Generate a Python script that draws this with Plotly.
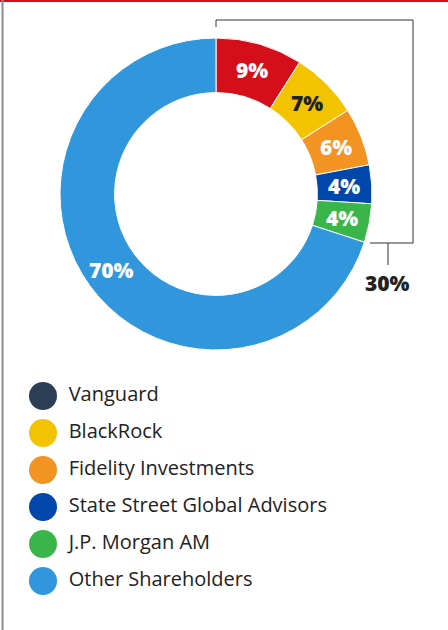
import math

import plotly.graph_objects as go

# shareholder split, clockwise from 12 o'clock
holders = [
    "Vanguard",
    "BlackRock",
    "Fidelity Investments",
    "State Street Global Advisors",
    "J.P. Morgan AM",
    "Other Shareholders",
]
shares = [9, 7, 6, 4, 4, 70]
slice_colors = ["#D50F19", "#F3C300", "#F39322", "#0047AB", "#3AB54A", "#3097DD"]
label_colors = ["#FFFFFF", "#222222", "#FFFFFF", "#FFFFFF", "#FFFFFF", "#FFFFFF"]
legend_colors = ["#2C3E55", "#F3C300", "#F39322", "#0047AB", "#3AB54A", "#3097DD"]

W, H = 448, 630
FONT = "Open Sans"

# donut geometry in pixels
CX, CY, R_OUT, HOLE = 216, 194, 156, 0.65


def px_x(v):
    return v / W


def px_y(v):
    return 1 - v / H


fig = go.Figure()

fig.add_trace(
    go.Pie(
        labels=holders,
        values=shares,
        sort=False,
        direction="clockwise",
        hole=HOLE,
        marker=dict(colors=slice_colors, line=dict(color="white", width=1)),
        textinfo="none",
        domain=dict(x=[px_x(CX - R_OUT), px_x(CX + R_OUT)],
                    y=[px_y(CY + R_OUT), px_y(CY - R_OUT)]),
        showlegend=False,
        hoverinfo="label+percent",
    )
)

# custom legend: big circles with names
fig.add_trace(
    go.Scatter(
        x=[0] * len(holders),
        y=list(range(len(holders))),
        mode="markers+text",
        marker=dict(size=28, color=legend_colors),
        text=[" \u200a" + h for h in holders],
        textposition="middle right",
        textfont=dict(family=FONT, size=20, color="#222222"),
        showlegend=False,
        hoverinfo="skip",
        cliponaxis=False,
    )
)

# slice labels at the middle of the ring, mid-angle of each slice
annotations = []
total = sum(shares)
r_mid = R_OUT * (1 + HOLE) / 2
cum = 0
for val, col in zip(shares, label_colors):
    ang = 2 * math.pi * (cum + val / 2) / total
    cum += val
    annotations.append(dict(
        text=f"{val}%",
        x=px_x(CX + r_mid * math.sin(ang)),
        y=px_y(CY - r_mid * math.cos(ang)),
        xref="paper", yref="paper",
        xanchor="center", yanchor="middle",
        showarrow=False,
        font=dict(family=FONT, size=21, color=col, weight=800),
    ))

# bracket around the top five holders
top_total = sum(shares[:5])
annotations.append(dict(
    text=f"{top_total}%",
    x=px_x(387), y=px_y(283),
    xref="paper", yref="paper",
    xanchor="center", yanchor="middle",
    showarrow=False,
    font=dict(family=FONT, size=21, color="#222222", weight=800),
))
bracket = [
    (216, 20, 413, 20),
    (216, 20, 216, 27),
    (413, 20, 413, 243),
    (370, 243, 413, 243),
    (388, 243, 388, 265),
]
shapes = [
    dict(type="line", xref="paper", yref="paper",
         x0=px_x(a), y0=px_y(b), x1=px_x(c), y1=px_y(d),
         line=dict(color="#333333", width=1))
    for a, b, c, d in bracket
]
# frame: red top rule, grey left rule
shapes.append(dict(type="line", xref="paper", yref="paper",
                   x0=0, y0=px_y(1), x1=1, y1=px_y(1),
                   line=dict(color="#D50F19", width=2)))
shapes.append(dict(type="line", xref="paper", yref="paper",
                   x0=px_x(2.5), y0=0, x1=px_x(2.5), y1=1,
                   line=dict(color="#8C8C8C", width=2)))

fig.update_layout(
    width=W,
    height=H,
    margin=dict(l=0, r=0, t=0, b=0),
    paper_bgcolor="white",
    plot_bgcolor="white",
    shapes=shapes,
    annotations=annotations,
    xaxis=dict(range=[-43, W - 43], domain=[0, 1], visible=False, fixedrange=True),
    yaxis=dict(range=[5.5, -0.5], domain=[px_y(599.5), px_y(377.5)],
               visible=False, fixedrange=True),
)

fig.write_html(
    "out.html",
    config={"displayModeBar": False},
    post_script="document.body.style.margin='0';",
)
